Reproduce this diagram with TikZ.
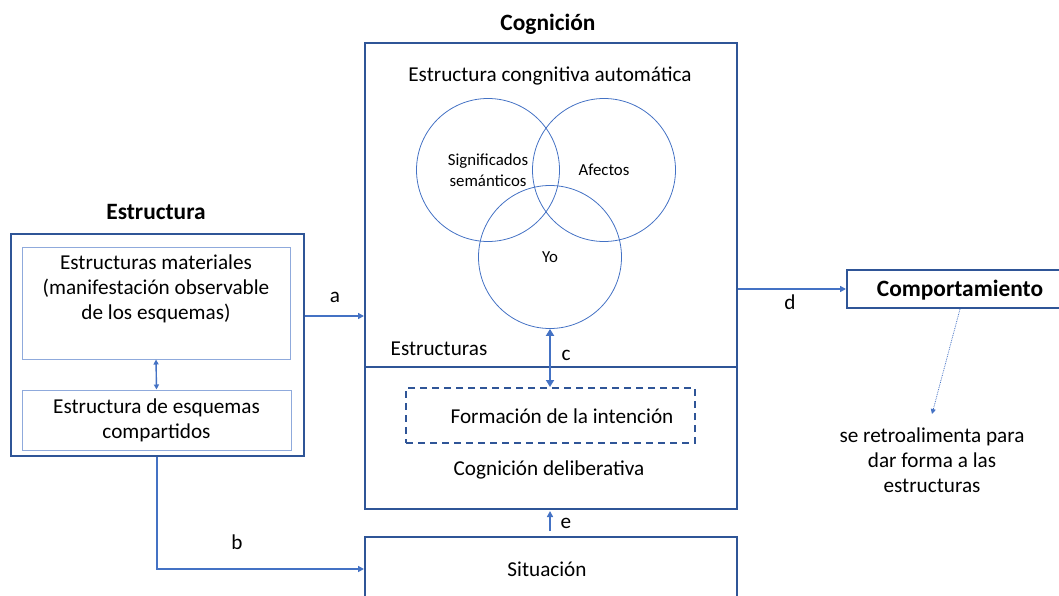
\documentclass[tikz,border=0pt]{standalone}
\usepackage{fontspec}
\setmainfont{Carlito}
\usetikzlibrary{arrows.meta}
\definecolor{boxblue}{RGB}{47,85,151}
\definecolor{lineblue}{RGB}{68,114,196}
\definecolor{paleblue}{RGB}{143,170,220}
\begin{document}
\begin{tikzpicture}[x=1pt,y=-1pt,
  txt/.style={font=\fontsize{21.2}{25}\selectfont, align=center, inner sep=0pt},
  title/.style={font=\fontsize{23.4}{26}\selectfont\bfseries, inner sep=0pt},
  outerbox/.style 2 args={draw=boxblue, line width=2pt, minimum width=#1, minimum height=#2, inner sep=0pt},
  innerbox/.style 2 args={draw=paleblue, line width=1pt, minimum width=#1, minimum height=#2, inner sep=0pt},
  venn/.style={draw=lineblue, line width=0.8pt, circle, minimum size=143pt, inner sep=0pt,
               font=\fontsize{16.8}{21}\selectfont, align=center},
  arr/.style={draw=lineblue, line width=1.8pt, -{Triangle[length=6pt,width=6pt]}},
  dblarr/.style={draw=lineblue, line width=2.4pt, {Triangle[length=7pt,width=8pt]}-{Triangle[length=7pt,width=8pt]}},
  thindbl/.style={draw=lineblue, line width=1.4pt, {Triangle[length=5pt,width=5pt]}-{Triangle[length=5pt,width=5pt]}},
]
\useasboundingbox (0,0) rectangle (1059,596);
\clip (0,0) rectangle (1059,596);

% --- Estructura (left) ---
\node[title] (ttlestr) at (156,212) {Estructura};
\node[outerbox={293pt}{222pt}] (estr) at (157.5,345) {};
\node[innerbox={268pt}{112pt}] (mat) at (156,303) {};
\node[txt] (mattxt) at (156,289) {Estructuras materiales\\(manifestación observable\\de los esquemas)};
\node[innerbox={269pt}{60pt}] (esq) at (156.5,420) {};
\node[txt] (esqtxt) at (156.5,420) {Estructura de esquemas\\compartidos};
\draw[thindbl] (mat.south) -- (esq.north);

% --- Cognición (centre) ---
\node[title] (ttlcog) at (548,24) {Cognición};
\node[outerbox={372pt}{466pt}] (cog) at (551,276) {};
\draw[draw=boxblue, line width=2pt] (cog.west |- 0,367) -- (cog.east |- 0,367);
\node[txt] (auto) at (550,76) {Estructura congnitiva automática};
\node[venn] (sig) at (488,170) {Significados\\semánticos};
\node[venn] (afe) at (604,170) {Afectos};
\node[venn] (yo) at (550,257) {Yo};
\node[txt] (estrs) at (439,349) {Estructuras};
\node[outerbox={289pt}{55pt}, dashed, dash pattern=on 7pt off 5pt] (form) at (550.5,415.5) {};
\node[txt] (formtxt) at (562,416) {Formación de la intención};
\node[txt] (delib) at (549,470) {Cognición deliberativa};
\draw[dblarr] (yo.south) -- (form.north -| yo.south);
\node[txt] (lc) at (566,355) {c};

% --- Situación (bottom) ---
\node[outerbox={372pt}{80pt}] (sit) at (551,577) {};
\node[txt] (sittxt) at (547,569) {Situación};
\draw[arr, shorten <=5pt, shorten >=1pt] (sit.north -| 550,0) -- (cog.south -| 550,0);
\node[txt] (le) at (566,523) {e};

% --- Comportamiento (right) ---
\node[outerbox={222pt}{38pt}] (comp) at (958,289) {};
\node[title] (comptxt) at (960,290) {Comportamiento};
\node[txt] (fb) at (932,460) {se retroalimenta para\\dar forma a las\\estructuras};
\coordinate (fbtip) at (932,414);
\draw[draw=lineblue, line width=0.8pt, densely dotted, -{Triangle[length=5pt,width=5pt]}] (comp.south -| 960,0) -- (fbtip);

% --- connectors a, b, d ---
\draw[arr] (estr.east |- 0,316) -- (cog.west |- 0,316);
\node[txt] (la) at (335,297) {a};
\draw[arr] (estr.south -| 157,0) |- (sit.west |- 0,569);
\node[txt] (lb) at (237,542) {b};
\draw[arr] (cog.east |- 0,289) -- (comp.west);
\node[txt] (ld) at (790,302) {d};
\end{tikzpicture}
\end{document}
